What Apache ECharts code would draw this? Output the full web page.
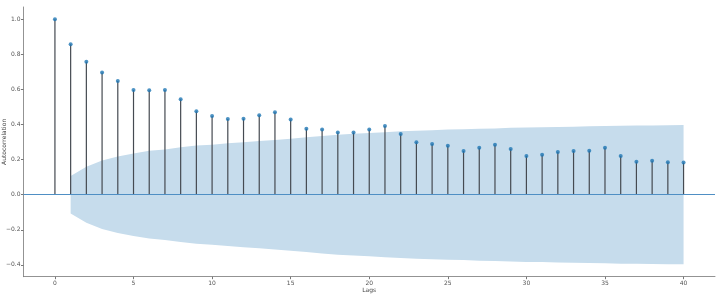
<!DOCTYPE html>
<html>
<head>
<meta charset="utf-8">
<script src="https://cdn.jsdelivr.net/npm/echarts@6/dist/echarts.min.js"></script>
<style>
  html, body { margin: 0; padding: 0; background: #fff; }
  #chart { width: 720px; height: 305px; }
</style>
</head>
<body>
<div id="chart"></div>
<script>
// autocorrelation per lag (0..40)
const lags = [0, 1, 2, 3, 4, 5, 6, 7, 8, 9, 10, 11, 12, 13, 14, 15, 16, 17, 18, 19, 20,
  21, 22, 23, 24, 25, 26, 27, 28, 29, 30, 31, 32, 33, 34, 35, 36, 37, 38, 39, 40]
const acfValues = [1.0, 0.857, 0.758, 0.696, 0.648, 0.597, 0.595, 0.597, 0.544, 0.475, 0.449,
  0.432, 0.433, 0.453, 0.470, 0.428, 0.376, 0.371, 0.354, 0.354, 0.371,
  0.392, 0.346, 0.299, 0.289, 0.279, 0.249, 0.268, 0.285, 0.260, 0.221,
  0.228, 0.243, 0.249, 0.251, 0.268, 0.221, 0.188, 0.194, 0.185, 0.183]
// half-width of the confidence band, lags 1..40
const bandLags = lags.slice(1)
const bandValues = [0.107, 0.160, 0.195, 0.218, 0.235, 0.250, 0.258, 0.270, 0.280, 0.285,
  0.293, 0.299, 0.306, 0.312, 0.319, 0.327, 0.335, 0.342, 0.347, 0.351,
  0.356, 0.361, 0.365, 0.368, 0.371, 0.373, 0.376, 0.378, 0.381, 0.383,
  0.384, 0.386, 0.388, 0.390, 0.391, 0.393, 0.394, 0.395, 0.396, 0.397]
const xTicks = [0, 5, 10, 15, 20, 25, 30, 35, 40]
const yTicks = [-0.4, -0.2, 0.0, 0.2, 0.4, 0.6, 0.8, 1.0]

const chart = echarts.init(document.getElementById('chart'))

const labelStyle = {
  fontFamily: 'DejaVu Sans',
  fontSize: 6,
  color: '#555'
}

chart.setOption({
  animation: false,
  grid: {
    left: 23.5, right: 5, top: 7, bottom: 28.3,
    containLabel: false,
    outerBoundsMode: 'none'
  },
  xAxis: {
    type: 'value',
    min: -2,
    max: 42,
    name: 'Lags',
    nameLocation: 'middle',
    nameGap: 10.5,
    nameMoveOverlap: false,
    nameTextStyle: { fontFamily: 'DejaVu Sans', fontSize: 6, color: '#444' },
    splitLine: { show: false },
    axisLine: { onZero: false, lineStyle: { color: '#777', width: 0.8 } },
    axisTick: { show: true, length: 2.5, customValues: xTicks, lineStyle: { color: '#777' } },
    axisLabel: Object.assign({ margin: 3.5, customValues: xTicks }, labelStyle)
  },
  yAxis: {
    type: 'value',
    min: -0.4675,
    max: 1.07,
    name: 'Autocorrelation',
    nameLocation: 'middle',
    nameGap: 16,
    nameRotate: 90,
    nameMoveOverlap: false,
    nameTextStyle: { fontFamily: 'DejaVu Sans', fontSize: 6, color: '#444' },
    splitLine: { show: false },
    axisLine: { show: true, onZero: false, lineStyle: { color: '#777', width: 0.8 } },
    axisTick: { show: true, length: 2.5, customValues: yTicks, lineStyle: { color: '#777' } },
    axisLabel: Object.assign({
      margin: 3,
      customValues: yTicks,
      formatter: v => (v < 0 ? '\u2212' : '') + Math.abs(v).toFixed(1)
    }, labelStyle)
  },
  series: [
    {
      // upper half of the confidence band
      type: 'line',
      data: bandLags.map((l, i) => [l, bandValues[i]]),
      symbol: 'none',
      lineStyle: { width: 0 },
      areaStyle: { color: '#c6dcec', opacity: 1, origin: 0 },
      z: 1
    },
    {
      // lower half
      type: 'line',
      data: bandLags.map((l, i) => [l, -bandValues[i]]),
      symbol: 'none',
      lineStyle: { width: 0 },
      areaStyle: { color: '#c6dcec', opacity: 1, origin: 0 },
      z: 1
    },
    {
      // stems
      type: 'custom',
      data: lags.map((l, i) => [l, acfValues[i]]),
      renderItem: (params, api) => {
        const top = api.coord([api.value(0), api.value(1)])
        const base = api.coord([api.value(0), 0])
        return {
          type: 'line',
          shape: { x1: top[0], y1: top[1], x2: base[0], y2: base[1] },
          style: { stroke: '#454a51', lineWidth: 1.2 }
        }
      },
      z: 2
    },
    {
      type: 'scatter',
      data: lags.map((l, i) => [l, acfValues[i]]),
      symbol: 'circle',
      symbolSize: 4,
      itemStyle: { color: '#1f77b4' },
      z: 4,
      markLine: {
        silent: true,
        symbol: 'none',
        label: { show: false },
        lineStyle: { color: '#4f8fc4', type: 'solid', width: 1.2 },
        data: [{ yAxis: 0 }],
        z: 3
      }
    }
  ]
})
</script>
</body>
</html>
